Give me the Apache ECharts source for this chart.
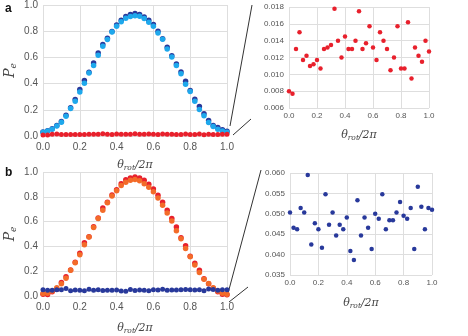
<!DOCTYPE html>
<html>
<head>
<meta charset="utf-8">
<script src="https://cdn.jsdelivr.net/npm/echarts@6/dist/echarts.min.js"></script>
<style>
    html, body { margin: 0; padding: 0; background: #fff; }
    #main { width: 468px; height: 336px; }
</style>
</head>
<body>
<div id="main"></div>
<script>
/* theta_rot / 2pi 取样点 */
var theta = [0.000, 0.025, 0.050, 0.075, 0.100, 0.125, 0.150, 0.175, 0.200, 0.225,
             0.250, 0.275, 0.300, 0.325, 0.350, 0.375, 0.400, 0.425, 0.450, 0.475,
             0.500, 0.525, 0.550, 0.575, 0.600, 0.625, 0.650, 0.675, 0.700, 0.725,
             0.750, 0.775, 0.800, 0.825, 0.850, 0.875, 0.900, 0.925, 0.950, 0.975, 1.000];

/* panel a */
var aNavy = [0.030, 0.040, 0.055, 0.080, 0.110, 0.158, 0.215, 0.278, 0.355, 0.424,
             0.487, 0.558, 0.634, 0.698, 0.746, 0.797, 0.848, 0.883, 0.912, 0.927,
             0.935, 0.928, 0.909, 0.884, 0.852, 0.800, 0.742, 0.678, 0.613, 0.550,
             0.488, 0.418, 0.348, 0.281, 0.225, 0.170, 0.118, 0.080, 0.064, 0.047, 0.037];
var aSky  = [0.028, 0.038, 0.052, 0.076, 0.105, 0.150, 0.210, 0.265, 0.335, 0.402,
             0.480, 0.538, 0.616, 0.685, 0.736, 0.793, 0.838, 0.872, 0.898, 0.912,
             0.918, 0.914, 0.897, 0.869, 0.838, 0.786, 0.738, 0.665, 0.604, 0.538,
             0.476, 0.395, 0.340, 0.265, 0.203, 0.155, 0.104, 0.072, 0.052, 0.038, 0.028];
var aRed  = [0.0080, 0.0077, 0.0130, 0.0150, 0.0117, 0.0122, 0.0110, 0.0112, 0.0117, 0.0107,
             0.0130, 0.0132, 0.0135, 0.0178, 0.0140, 0.0120, 0.0145, 0.0130, 0.0130, 0.0140,
             0.0175, 0.0130, 0.0137, 0.0157, 0.0132, 0.0117, 0.0150, 0.0140, 0.0130, 0.0105,
             0.0120, 0.0157, 0.0107, 0.0107, 0.0162, 0.0095, 0.0132, 0.0122, 0.0115, 0.0140, 0.0127];

/* panel b */
var bRed    = [0.015, 0.012, 0.035, 0.055, 0.108, 0.155, 0.210, 0.272, 0.345, 0.430,
               0.478, 0.558, 0.630, 0.710, 0.757, 0.815, 0.857, 0.905, 0.938, 0.952,
               0.960, 0.952, 0.934, 0.902, 0.862, 0.812, 0.756, 0.692, 0.626, 0.556,
               0.470, 0.405, 0.320, 0.265, 0.208, 0.140, 0.098, 0.062, 0.035, 0.015, 0.010];
var bOrange = [0.020, 0.022, 0.040, 0.066, 0.098, 0.143, 0.207, 0.268, 0.333, 0.414,
               0.476, 0.552, 0.624, 0.692, 0.752, 0.807, 0.848, 0.892, 0.918, 0.933,
               0.940, 0.930, 0.905, 0.878, 0.840, 0.790, 0.732, 0.670, 0.604, 0.526,
               0.462, 0.383, 0.316, 0.250, 0.190, 0.135, 0.100, 0.066, 0.040, 0.022, 0.015];
var bBlue   = [0.0503, 0.0466, 0.0462, 0.0514, 0.0503, 0.0595, 0.0425, 0.0477, 0.0462, 0.0417,
               0.0548, 0.0473, 0.0503, 0.0447, 0.0473, 0.0462, 0.0491, 0.0409, 0.0387, 0.0533,
               0.0447, 0.0491, 0.0466, 0.0414, 0.0500, 0.0488, 0.0548, 0.0462, 0.0484, 0.0484,
               0.0503, 0.0529, 0.0495, 0.0488, 0.0514, 0.0414, 0.0566, 0.0517, 0.0462, 0.0514, 0.0510];

var xTicks = ['0.0', '0.2', '0.4', '0.6', '0.8', '1.0'];

(function () {
    'use strict';

    var NAVY = '#28399b', SKY = '#1ea8ec', RED = '#e8202c', ORANGE = '#f36b29';
    var TICK = '#555', GRIDC = '#dedede';
    var SANS = 'Liberation Sans, Arial, sans-serif';
    var SERIF = 'DejaVu Serif, serif';

    var chart = echarts.init(document.getElementById('main'));

    function pairs(ys) {
        return theta.map(function (t, i) { return [t, ys[i]]; });
    }

    /* theta_rot/2pi 的富文本 */
    var thetaRich = {
        m: { fontFamily: SERIF, fontStyle: 'italic', fontSize: 11, color: '#444' },
        s: { fontFamily: SERIF, fontStyle: 'italic', fontSize: 7.5, color: '#444', padding: [6, 0, 0, 0] }
    };
    var peRich = {
        m: { fontFamily: SERIF, fontStyle: 'italic', fontSize: 14, color: '#444' },
        s: { fontFamily: SERIF, fontStyle: 'italic', fontSize: 9, color: '#444', padding: [7, 0, 0, 0] }
    };

    function xAxis(idx, fs, margin, gap) {
        return {
            gridIndex: idx, type: 'value', min: 0, max: 1, interval: 0.2,
            name: '{m|θ}{s|rot}{m|/2π}', nameLocation: 'middle', nameGap: gap,
            nameTextStyle: { rich: thetaRich },
            axisLine: { show: false }, axisTick: { show: false },
            axisLabel: { color: TICK, fontFamily: SANS, fontSize: fs, margin: margin,
                formatter: function (v) { return xTicks[Math.round(v * 5)]; } },
            splitLine: { show: true, lineStyle: { color: GRIDC, width: 1 } }
        };
    }

    function yAxis(idx, min, max, step, digits, fs, withName) {
        var ax = {
            gridIndex: idx, type: 'value', min: min, max: max, interval: step,
            axisLine: { show: false }, axisTick: { show: false },
            axisLabel: { color: TICK, fontFamily: SANS, fontSize: fs, margin: 5,
                formatter: function (v) { return v.toFixed(digits); } },
            splitLine: { show: true, lineStyle: { color: GRIDC, width: 1 } }
        };
        if (withName) {
            ax.name = '{m|P}{s|e}';
            ax.nameLocation = 'middle';
            ax.nameGap = 25;
            ax.nameRotate = 90;
            ax.nameTextStyle = { rich: peRich };
        }
        return ax;
    }

    function dots(idx, ys, color, size) {
        return {
            type: 'scatter', xAxisIndex: idx, yAxisIndex: idx,
            data: pairs(ys), symbolSize: size, clip: true,
            itemStyle: { color: color, opacity: 1 },
            emphasis: { disabled: true }
        };
    }

    var conn = { stroke: '#333', lineWidth: 1 };

    chart.setOption({
        animation: false,
        backgroundColor: '#fff',
        grid: [
            { left: 43, top: 5, width: 184, height: 131 },
            { left: 289, top: 7, width: 140, height: 101 },
            { left: 43, top: 172, width: 184, height: 130 },
            { left: 290, top: 173, width: 142, height: 102 }
        ],
        xAxis: [
            xAxis(0, 10, 6, 22),
            xAxis(1, 8, 4, 20),
            xAxis(2, 10, 6, 25),
            xAxis(3, 8, 4, 21)
        ],
        yAxis: [
            yAxis(0, 0, 1, 0.2, 1, 10, true),
            yAxis(1, 0.006, 0.018, 0.002, 3, 8, false),
            yAxis(2, 0, 1, 0.2, 1, 10, true),
            yAxis(3, 0.035, 0.06, 0.005, 3, 8, false)
        ],
        series: [
            dots(0, aNavy, NAVY, 5.5),
            dots(0, aSky, SKY, 5.5),
            dots(0, aRed, RED, 5),
            dots(1, aRed, RED, 4.5),
            dots(2, bRed, RED, 5.5),
            dots(2, bOrange, ORANGE, 5.5),
            dots(2, bBlue, NAVY, 5),
            dots(3, bBlue, NAVY, 4.5)
        ],
        graphic: [
            { type: 'text', left: 5, top: 3,
              style: { text: 'a', font: 'bold 12px ' + SANS, fill: '#111' } },
            { type: 'text', left: 5, top: 167,
              style: { text: 'b', font: 'bold 12px ' + SANS, fill: '#111' } },
            /* 放大连接线 */
            { type: 'line', shape: { x1: 230, y1: 126, x2: 252, y2: 5 }, style: conn },
            { type: 'line', shape: { x1: 233, y1: 135, x2: 251, y2: 119 }, style: conn },
            { type: 'line', shape: { x1: 227, y1: 297, x2: 261, y2: 170 }, style: conn },
            { type: 'line', shape: { x1: 229, y1: 302, x2: 248, y2: 287 }, style: conn }
        ]
    });
})();
</script>
</body>
</html>
